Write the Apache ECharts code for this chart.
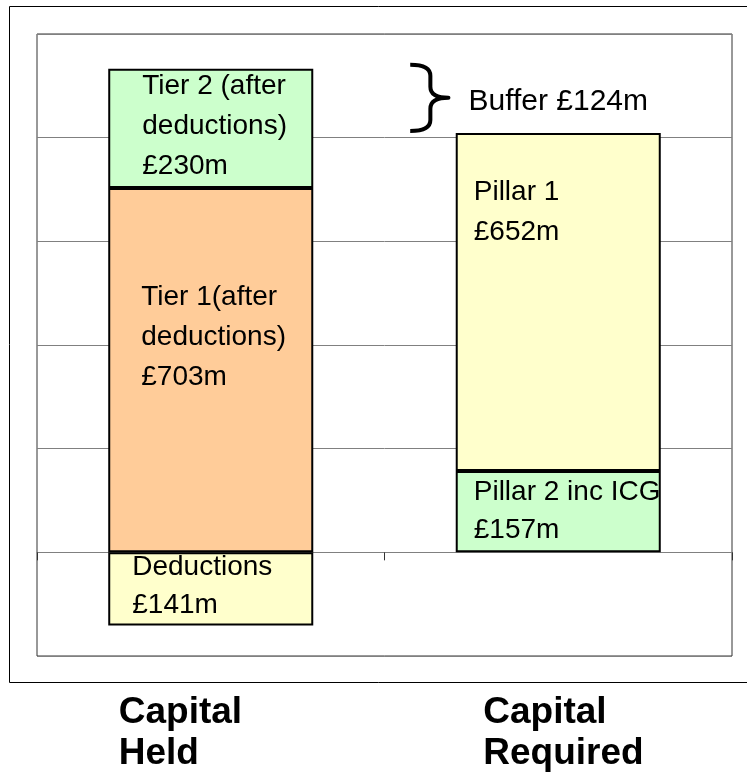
<!DOCTYPE html>
<html style="height: 100%">
<head>
    <meta charset="utf-8">
</head>
<body style="height: 100%; margin: 0">
<div id="container" style="width: 747px; height: 775px"></div>
<script type="text/javascript" src="https://cdn.jsdelivr.net/npm/echarts@6/dist/echarts.min.js"></script>
<script type="text/javascript">
    var dom = document.getElementById("container");
    var myChart = echarts.init(dom);

    // categories and stacked segments (£m)
    const categories = ['Capital Held', 'Capital Required'];
    const deductions = [-141, '-'];
    const tier1 = [703, '-'];
    const tier2 = [230, '-'];
    const pillar2 = ['-', 157];
    const pillar1 = ['-', 652];
    const segmentNames = ['Deductions', 'Tier 1(after\ndeductions)', 'Tier 2 (after\ndeductions)', 'Pillar 2 inc ICG', 'Pillar 1'];

    // value axis range
    const yMin = -200;
    const yMax = 1000;
    const yStep = 200;

    const heldTotal = tier1[0] + tier2[0];
    const requiredTotal = pillar1[1] + pillar2[1];

    const FONT = "'Liberation Sans', Arial, sans-serif";

    function segment(name, data, color, pos, lineHeight) {
        return {
            name: name,
            type: 'bar',
            stack: 'total',
            data: data,
            barWidth: '59%',
            itemStyle: {color: color, borderColor: '#000', borderWidth: 2},
            label: {
                show: true,
                position: pos,
                color: '#000',
                fontSize: 28,
                fontFamily: FONT,
                lineHeight: lineHeight,
                formatter: function (p) {
                    return p.seriesName + '\n£' + Math.abs(p.value) + 'm';
                }
            }
        };
    }

    var catLabelStyle = {
        fontSize: 37, fontWeight: 'bold', fontFamily: FONT,
        color: '#000', lineHeight: 41, align: 'left'
    };

    var option = {
        animation: false,
        graphic: [{
            type: 'rect',
            silent: true,
            z: -1,
            shape: {x: 9.5, y: 6.5, width: 800, height: 676},
            style: {fill: 'none', stroke: '#000', lineWidth: 1}
        }],
        grid: {
            left: 37, top: 34, right: 15, bottom: 119,
            show: true, borderColor: '#333', borderWidth: 1,
            containLabel: false,
            outerBoundsMode: 'none'
        },
        xAxis: [{
            type: 'category',
            data: categories,
            axisLine: {onZero: true, lineStyle: {color: '#808080', width: 1}},
            axisTick: {show: true, length: 8, lineStyle: {color: '#333'}},
            axisLabel: {show: false}
        }, {
            // label-only axis under the frame
            type: 'category',
            data: categories,
            position: 'bottom',
            axisLine: {show: false, onZero: false},
            axisTick: {show: false},
            splitLine: {show: false},
            axisLabel: {
                show: true,
                interval: 0,
                margin: 36,
                formatter: function (v, i) {
                    var key = i === 0 ? 'a' : 'b';
                    return v.split(' ').map(function (w) { return '{' + key + '|' + w + '}'; }).join('\n');
                },
                rich: {
                    a: Object.assign({width: 184}, catLabelStyle),
                    b: Object.assign({width: 150}, catLabelStyle)
                }
            }
        }],
        yAxis: {
            type: 'value',
            min: yMin, max: yMax, interval: yStep,
            axisLine: {show: false},
            axisTick: {show: false},
            axisLabel: {show: false},
            splitLine: {lineStyle: {color: '#808080', width: 1}}
        },
        series: [
            segment(segmentNames[0], deductions, '#FFFFCC', [24, -4], 38),
            segment(segmentNames[1], tier1, '#FFCC99', [33, 89], 40),
            segment(segmentNames[2], tier2, '#CCFFCC', [34, -2], 40),
            segment(segmentNames[3], pillar2, '#CCFFCC', [18, 2], 38),
            segment(segmentNames[4], pillar1, '#FFFFCC', [18, 39], 40),
            {
                type: 'custom',
                silent: true,
                z: 10,
                data: [[1, requiredTotal, heldTotal]],
                renderItem: function (params, api) {
                    var top = api.coord([api.value(0), api.value(2)]);
                    var bot = api.coord([api.value(0), api.value(1)]);
                    var band = api.size([1, 0])[0];
                    var x0 = top[0] - band * 0.426;
                    var x1 = top[0] - band * 0.368;
                    var x2 = top[0] - band * 0.316;
                    var yT = top[1] - 4, yB = bot[1] - 2;
                    var ym = (yT + yB) / 2, r = 11;
                    var d = 'M' + x0 + ' ' + yT +
                        ' Q' + x1 + ' ' + yT + ' ' + x1 + ' ' + (yT + r) +
                        ' L' + x1 + ' ' + (ym - r) +
                        ' Q' + x1 + ' ' + ym + ' ' + x2 + ' ' + ym +
                        ' Q' + x1 + ' ' + ym + ' ' + x1 + ' ' + (ym + r) +
                        ' L' + x1 + ' ' + (yB - r) +
                        ' Q' + x1 + ' ' + yB + ' ' + x0 + ' ' + yB;
                    return {
                        type: 'group',
                        children: [{
                            type: 'path',
                            shape: {pathData: d},
                            style: {fill: 'none', stroke: '#000', lineWidth: 4, lineJoin: 'round'}
                        }, {
                            type: 'text',
                            style: {
                                text: 'Buffer £' + (api.value(2) - api.value(1)) + 'm',
                                x: x2 + 20, y: ym + 4,
                                fill: '#000', fontSize: 30, fontFamily: FONT,
                                align: 'left', verticalAlign: 'middle'
                            }
                        }]
                    };
                }
            }
        ]
    };

    if (option && typeof option === 'object') {
        myChart.setOption(option);
    }
</script>
</body>
</html>
